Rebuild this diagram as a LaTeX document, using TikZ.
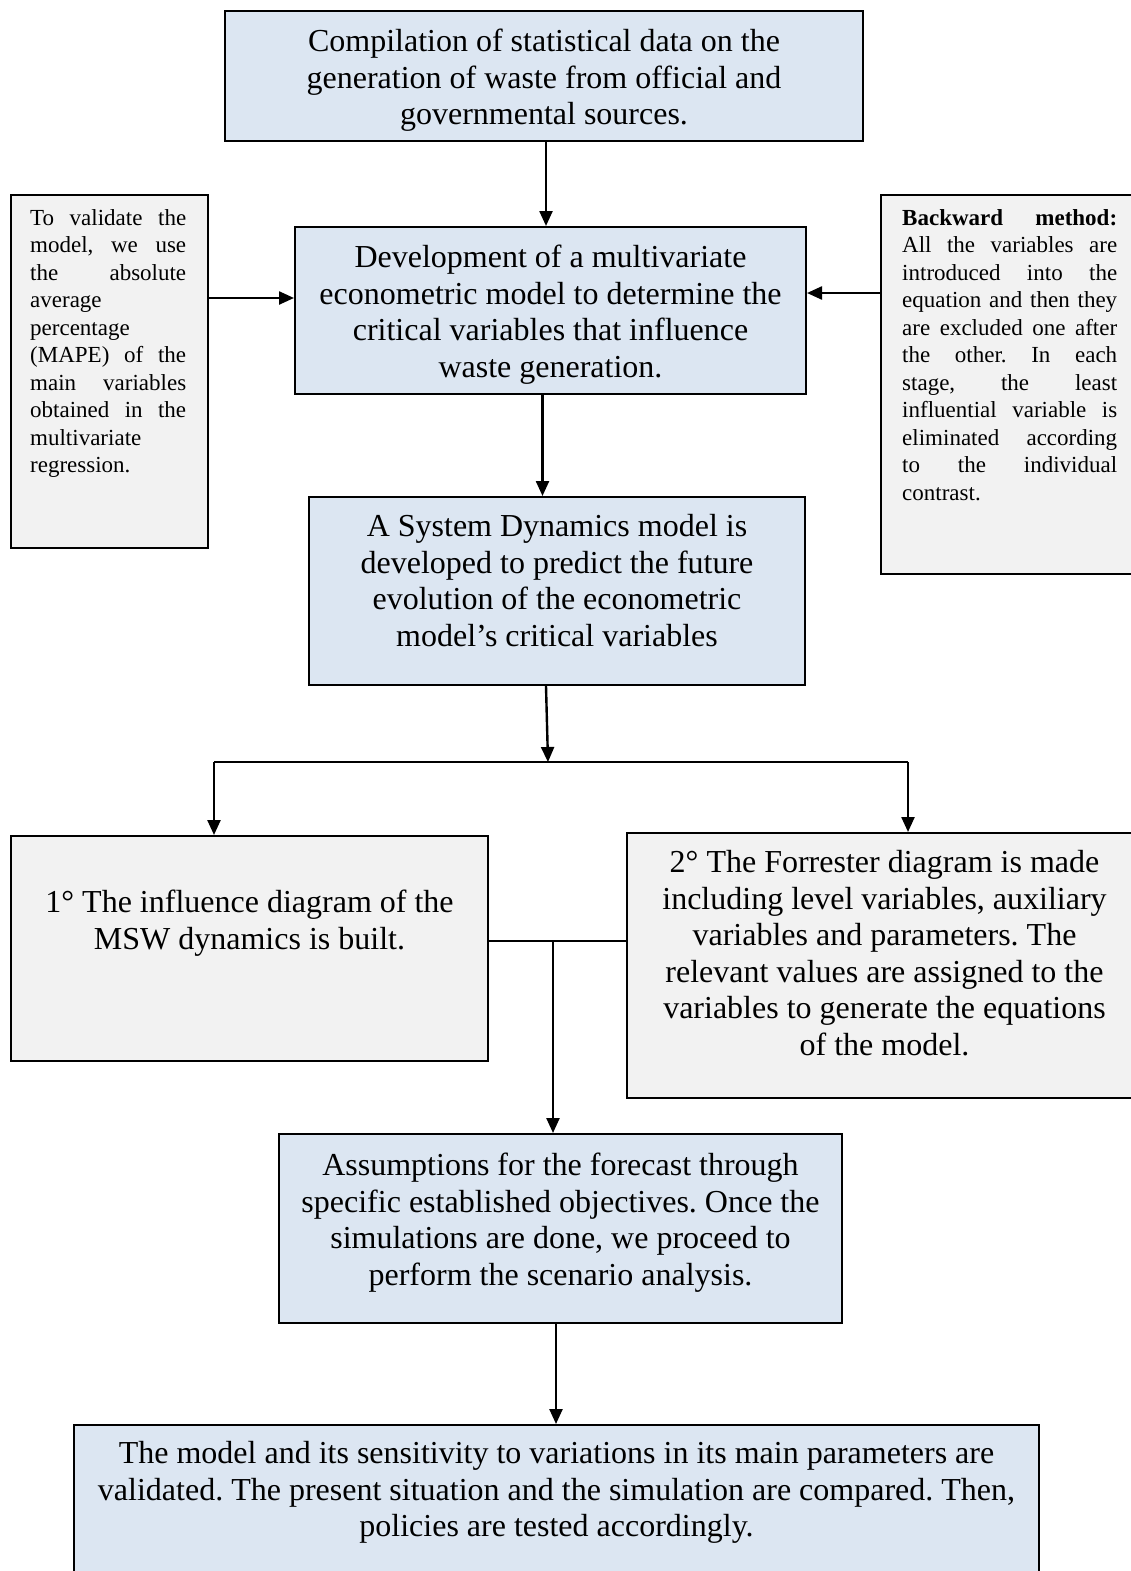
\documentclass[tikz,border=0pt]{standalone}
\usepackage{fontspec}
\setmainfont{Liberation Serif}
\usetikzlibrary{arrows.meta,calc}
\definecolor{boxblue}{RGB}{220,230,242}
\definecolor{boxgray}{RGB}{242,242,242}
\newcommand\mainsz{\fontsize{32}{36.6}\selectfont\frenchspacing}
\newcommand\sidesz{\fontsize{23}{27.5}\selectfont\frenchspacing}
\begin{document}
\begin{tikzpicture}[x=1pt,y=-1pt,
  bluebox/.style={draw, line width=2pt, fill=boxblue, inner sep=0pt, anchor=north west},
  graybox/.style={draw, line width=2pt, fill=boxgray, inner sep=0pt, anchor=north west},
  maintext/.style={font=\mainsz, align=center, inner sep=0pt, anchor=north},
  sidetext/.style={font=\sidesz, align=justify, inner sep=0pt, anchor=north west},
  arr/.style={line width=2.4pt, -{Triangle[length=15pt,width=13pt]}},
  conn/.style={line width=2pt}]
\useasboundingbox (0,0) rectangle (1131,1571);
\fill[white] (0,0) rectangle (1131,1571);
\clip (0,0) rectangle (1131,1571);
% boxes
\node[bluebox, minimum width=638pt, minimum height=130pt] (b1) at (224,10) {};
\node[bluebox, minimum width=511pt, minimum height=167pt] (b2) at (294,226) {};
\node[graybox, minimum width=197pt, minimum height=353pt] (lb) at (10,194) {};
\node[graybox, minimum width=260pt, minimum height=379pt] (rb) at (880,194) {};
\node[bluebox, minimum width=496pt, minimum height=188pt] (b3) at (308,496) {};
\node[graybox, minimum width=477pt, minimum height=225pt] (b4) at (10,835) {};
\node[graybox, minimum width=515pt, minimum height=265pt] (b5) at (626,832) {};
\node[bluebox, minimum width=563pt, minimum height=189pt] (b6) at (278,1133) {};
\node[bluebox, minimum width=965pt, minimum height=200pt] (b7) at (73,1424) {};
% texts
\node[maintext] (t1) at ($(b1.north)+(0,19)$) {Compilation of statistical data on the\\generation of waste from official and\\governmental sources.};
\node[maintext] (t2) at ($(b2.north)+(0,19)$) {Development of a multivariate\\econometric model to determine the\\critical variables that influence\\waste generation.};
\node[maintext] (t3) at ($(b3.north)+(0,18)$) {A System Dynamics model is\\developed to predict the future\\evolution of the econometric\\model’s critical variables};
\node[maintext] (t4) at ($(b4.north)+(0,55)$) {1° The influence diagram of the\\MSW dynamics is built.};
\node[maintext] (t5) at ($(b5.north)+(0,18)$) {2° The Forrester diagram is made\\including level variables, auxiliary\\variables and parameters. The\\relevant values are assigned to the\\variables to generate the equations\\of the model.};
\node[maintext] (t6) at ($(b6.north)+(0,20)$) {Assumptions for the forecast through\\specific established objectives. Once the\\simulations are done, we proceed to\\perform the scenario analysis.};
\node[maintext] (t7) at ($(b7.north)+(0,17)$) {The model and its sensitivity to variations in its main parameters are\\validated. The present situation and the simulation are compared. Then,\\policies are tested accordingly.};
\node[sidetext, text width=156pt] (tl) at ($(lb.north west)+(20,15)$) {\hyphenpenalty=10000 To validate the\linebreak model, we use\linebreak the absolute\linebreak average\linebreak percentage\linebreak (MAPE) of the\linebreak main variables\linebreak obtained in the\linebreak multivariate\linebreak regression.};
\node[sidetext, text width=215pt] (tr) at ($(rb.north west)+(22,15)$) {\hyphenpenalty=10000 \textbf{Backward method:}\linebreak All the variables are\linebreak introduced into the\linebreak equation and then they\linebreak are excluded one after\linebreak the other. In each\linebreak stage, the least\linebreak influential variable is\linebreak eliminated according\linebreak to the individual\linebreak contrast.};
% junction points
\coordinate (j1) at (548,762);
\coordinate (jl) at (214,762);
\coordinate (jr) at (908,762);
\coordinate (j2) at (553,941);
% connectors
\draw[arr] ([xshift=2pt]b1.south) -- ([xshift=2pt]b1.south |- b2.north);
\draw[arr] ($(lb.north east)+(0,104)$) -- ($(b2.north west)+(0,72)$);
\draw[arr] ($(rb.north west)+(0,99)$) -- ($(b2.north east)+(0,67)$);
\draw[arr] ([xshift=-8pt]b2.south) -- ([xshift=-8pt]b2.south |- b3.north);
\draw[arr] ([xshift=-11pt]b3.south) -- (j1);
\draw[conn] (jl) -- (jr);
\draw[arr] (jl) -- (jl |- b4.north);
\draw[arr] (jr) -- (jr |- b5.north);
\draw[conn] (b4.east |- j2) -- (b5.west |- j2);
\draw[arr] (j2) -- (j2 |- b6.north);
\draw[arr] ([xshift=-4.5pt]b6.south) -- ([xshift=-4.5pt]b6.south |- b7.north);
\end{tikzpicture}
\end{document}
